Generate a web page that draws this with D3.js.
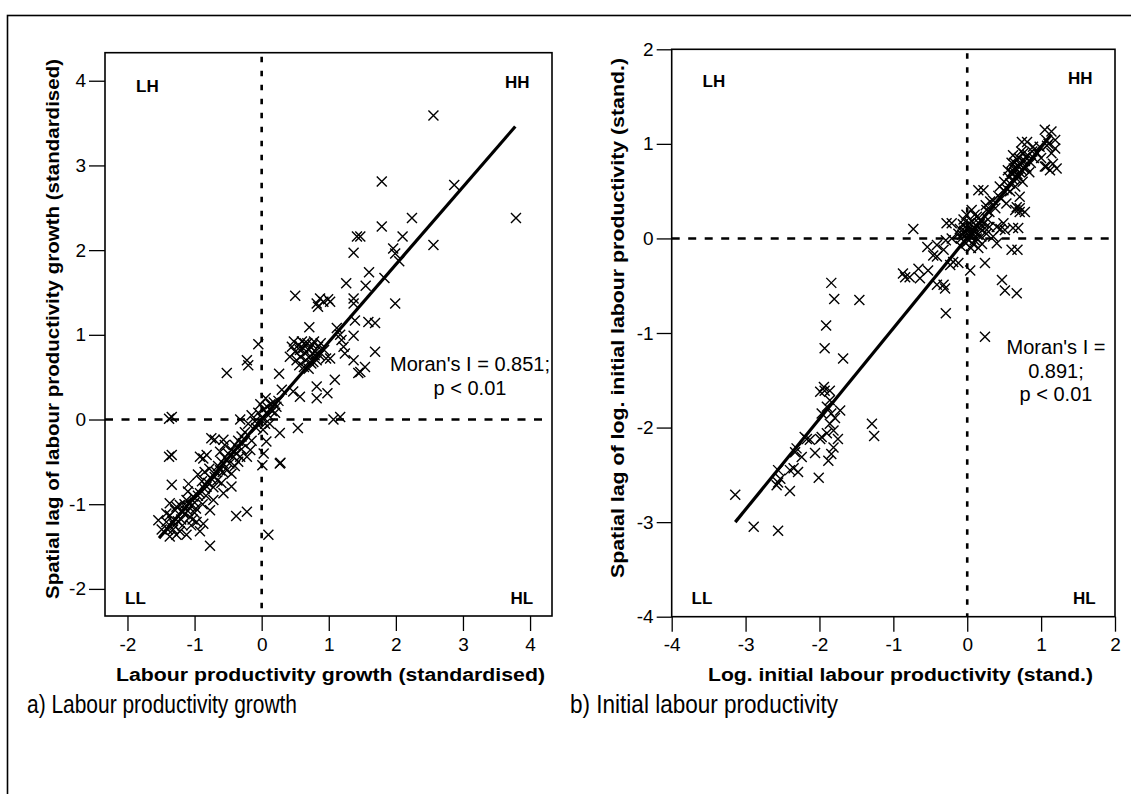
<!DOCTYPE html>
<html>
<head>
<meta charset="utf-8">
<script src="https://cdn.jsdelivr.net/npm/d3@7"></script>
<style>
  html, body { margin: 0; padding: 0; background: #fff; }
  svg { display: block; }
  text { font-family: "Liberation Sans", Arial, sans-serif; fill: #000; }
</style>
</head>
<body>
<svg id="chart" width="1131" height="794"></svg>
<script>
// ---------------- DATA ----------------
const ticksA_x = [-2, -1, 0, 1, 2, 3, 4];
const ticksA_y = [-2, -1, 0, 1, 2, 3, 4];
const ticksB_x = [-4, -3, -2, -1, 0, 1, 2];
const ticksB_y = [-4, -3, -2, -1, 0, 1, 2];

const quadrantLabels = ["LH", "HH", "LL", "HL"];

// a) Labour productivity growth: [x, spatial lag]
const pointsA = [
  [2.56,3.59],[1.79,2.81],[2.87,2.77],[3.79,2.38],[2.24,2.38],[1.79,2.28],[2.10,2.16],[2.56,2.06],
  [1.42,2.16],[1.47,2.16],[1.37,1.97],[1.96,2.02],[1.99,1.96],[2.05,1.87],[1.60,1.74],[1.83,1.67],
  [1.26,1.61],[1.55,1.58],[0.50,1.46],[0.87,1.43],[0.99,1.42],[0.82,1.37],[0.92,1.39],[1.02,1.39],
  [0.84,1.33],[1.37,1.43],[1.37,1.37],[1.99,1.37],[0.71,1.09],[1.12,1.08],[1.39,1.17],[1.59,1.15],
  [1.69,1.14],[1.37,0.99],[1.17,1.00],[1.19,0.94],
  [0.45,0.86],[0.50,0.80],[0.55,0.88],[0.58,0.74],[0.60,0.92],[0.62,0.84],[0.65,0.78],[0.66,0.70],
  [0.68,0.90],[0.70,0.82],[0.72,0.75],[0.74,0.66],[0.76,0.88],[0.78,0.92],[0.80,0.80],[0.82,0.70],
  [0.84,0.86],[0.86,0.76],[0.88,0.90],[0.52,0.70],[0.56,0.64],[0.63,0.62],[0.70,0.60],[0.77,0.68],
  [0.93,0.82],[0.96,0.72],[0.42,0.74],[0.48,0.92],[0.57,0.82],[0.64,0.90],[0.73,0.86],[0.79,0.76],
  [1.22,0.86],[1.24,0.78],[1.69,0.80],[1.02,0.72],[1.37,0.70],[1.54,0.62],[1.44,0.55],[1.09,0.47],
  [0.82,0.39],[0.98,0.31],[0.82,0.25],[0.57,0.27],[0.47,0.33],[1.47,0.56],[1.07,0.00],[1.17,0.03],
  [0.26,0.54],
  [-0.05,0.89],[-0.22,0.70],[-0.20,0.64],[-0.52,0.55],
  [-0.32,0.00],[-0.15,0.05],[-0.10,-0.02],[-0.05,0.08],[0.00,0.02],[0.03,0.12],[0.05,-0.05],[0.08,0.15],
  [0.10,0.05],[0.13,0.18],[0.15,0.10],[0.18,0.20],[0.20,0.08],[0.22,0.15],[-0.08,-0.10],[0.02,-0.12],
  [-0.02,0.18],[0.25,0.22],[0.30,0.35],[0.12,-0.05],[-0.20,-0.05],[0.06,0.25],
  [0.54,-0.10],[0.27,-0.16],[0.27,-0.52],[0.28,-0.51],[0.01,-0.54],[0.03,-0.40],[0.07,-0.26],
  [0.10,-1.36],[-0.22,-1.09],[-0.38,-1.14],[-0.77,-1.49],
  [-1.38,0.01],[-1.34,0.03],[-1.38,-0.44],[-1.34,-0.42],[-1.34,-0.77],[-1.09,-0.76],[-1.54,-1.19],
  [-0.75,-0.22],[-0.70,-0.24],[-0.57,-0.24],[-0.92,-0.44],[-0.82,-0.42],[-0.87,-0.46],[-0.45,-0.36],
  [-0.42,-0.44],[-0.32,-0.44],[-0.22,-0.44],[-0.17,-0.36],[-0.62,-0.60],[-0.52,-0.60],[-0.45,-0.64],
  [-0.70,-0.68],[-0.45,-0.79],[-0.57,-0.87],[-0.72,-0.95],[-0.77,-1.07],[-0.89,-0.73],[-0.82,-0.79],
  [-0.92,-0.87],[-1.02,-0.91],[-1.12,-0.95],[-1.22,-1.01],[-1.29,-1.07],[-1.37,-1.13],[-1.42,-1.21],
  [-1.32,-1.30],[-1.27,-1.36],[-1.37,-1.38],[-1.12,-1.36],[-0.92,-1.32],[-0.87,-1.23],[-0.97,-1.21],
  [-1.07,-1.15],[-1.17,-1.09],[-1.27,-1.03],[-1.37,-0.99],[-1.42,-1.11],[-1.49,-1.30],
  [-0.40,-0.30],[-0.35,-0.25],[-0.30,-0.20],[-0.25,-0.15],[-0.55,-0.45],[-0.50,-0.40],[-0.60,-0.50],
  [-0.65,-0.55],[-0.68,-0.62],[-0.75,-0.70],[-0.80,-0.75],[-0.85,-0.82],[-0.95,-0.90],[-1.00,-0.98],
  [-1.05,-1.02],[-1.10,-1.08],[-1.15,-1.12],[-1.20,-1.18],[-1.25,-1.20],[-1.30,-1.25],[-0.72,-0.80],
  [-0.88,-1.00],[-1.00,-1.10],[-1.05,-1.25],[-0.60,-0.75],[-0.40,-0.55],[-0.30,-0.35],[-0.15,-0.25],
  [-0.48,-0.52],[-0.95,-0.65],[-1.10,-0.85],[-0.78,-0.58],[-0.35,-0.50],[-0.55,-0.30],
  [-1.18,-1.25],[-1.22,-1.32],[-1.33,-1.20],[-1.03,-1.18],[-0.98,-1.05],[-0.83,-0.90],[-0.66,-0.72],
  [-0.58,-0.62],[-0.38,-0.40],[-0.28,-0.28],[-0.62,-0.38],[-0.85,-0.62],[-1.15,-1.00],[-1.40,-1.30]
];

// b) Initial labour productivity: [x, spatial lag]
const pointsB = [
  [-3.14,-2.71],[-2.89,-3.05],[-2.56,-3.09],[-2.40,-2.67],[-2.58,-2.61],[-2.56,-2.58],[-2.53,-2.54],
  [-2.56,-2.45],[-2.40,-2.45],[-2.29,-2.47],[-2.35,-2.43],[-2.33,-2.26],[-2.24,-2.31],[-2.31,-2.22],
  [-2.17,-2.12],[-2.13,-2.13],[-2.20,-2.10],[-2.06,-2.27],[-2.01,-2.53],[-1.99,-2.12],[-1.97,-2.10],
  [-1.90,-2.06],[-1.81,-2.03],[-1.75,-2.12],[-1.81,-2.21],[-1.84,-2.28],[-1.88,-2.35],[-1.86,-1.96],
  [-1.79,-1.90],[-1.84,-1.85],[-1.90,-1.78],[-1.97,-1.85],[-1.72,-1.82],[-1.86,-1.71],[-1.93,-1.61],
  [-1.86,-1.61],[-1.99,-1.62],[-1.94,-1.57],[-1.93,-1.16],[-1.68,-1.27],[-1.29,-1.96],[-1.26,-2.09],
  [0.24,-1.04],
  [-1.84,-0.47],[-1.80,-0.64],[-1.46,-0.65],[-1.91,-0.92],[-0.73,0.10],[-0.87,-0.37],[-0.84,-0.41],
  [-0.78,-0.41],[-0.66,-0.32],[-0.64,-0.42],[-0.53,-0.34],[-0.54,-0.09],[-0.41,-0.07],[-0.41,-0.19],
  [-0.46,-0.18],[-0.28,0.16],[-0.29,-0.02],[-0.41,-0.49],[-0.32,-0.49],[-0.30,-0.53],[-0.29,-0.79],
  [-0.23,-0.28],[-0.12,-0.26],[-0.19,-0.25],[0.04,-0.34],[0.24,-0.26],[0.15,0.51],[0.60,-0.12],
  [0.47,-0.44],[0.51,-0.55],[0.67,-0.58],[0.62,0.11],[0.65,0.30],[0.71,0.28],[0.67,0.33],
  [-0.21,0.16],[-0.21,0.00],[-0.32,-0.12],
  [-0.12,0.05],[-0.10,0.10],[-0.08,0.00],[-0.06,0.15],[-0.04,0.08],[-0.02,-0.05],[0.00,0.05],
  [0.02,0.12],[0.04,0.02],[0.06,0.18],[0.08,0.08],[0.10,-0.02],[0.12,0.14],[0.14,0.04],[0.16,0.22],
  [0.18,0.10],[0.20,-0.06],[0.22,0.16],[0.26,0.05],[0.28,0.20],[-0.05,0.20],[0.05,-0.10],[0.10,0.25],
  [0.00,0.00],[0.07,0.06],[-0.09,-0.08],[0.15,-0.10],[0.30,0.12],[0.35,0.02],[0.40,-0.05],[0.45,0.10],
  [-0.03,0.12],[0.01,0.09],[0.03,0.16],[0.05,0.04],[0.09,0.12],[0.11,0.07],[0.13,0.00],[-0.07,0.04],
  [0.02,-0.02],[0.17,0.15],[0.19,0.02],[0.24,0.11],[-0.01,0.25],[0.08,-0.06],
  [0.06,0.30],[0.13,0.23],[0.26,0.30],[0.49,0.16],[0.51,0.09],[0.40,0.12],[0.22,0.51],[0.31,0.39],
  [0.44,0.55],[0.49,0.51],[0.53,0.37],[0.71,0.44],[0.71,0.32],[0.78,0.28],[0.69,0.11],[0.68,-0.12],
  [0.25,0.35],[0.30,0.28],[0.35,0.40],[0.38,0.32],[0.42,0.45],[0.46,0.42],[0.50,0.60],[0.54,0.52],
  [0.56,0.65],[0.58,0.58],[0.60,0.70],[0.62,0.62],[0.64,0.80],[0.66,0.74],[0.68,0.68],[0.70,0.85],
  [0.72,0.78],[0.74,0.72],[0.76,0.90],[0.78,0.82],[0.80,0.75],[0.82,0.88],[0.84,0.70],[0.86,0.80],
  [0.88,0.92],[0.60,0.80],[0.55,0.72],[0.65,0.55],[0.62,0.88],[0.70,0.65],[0.75,0.60],[0.90,0.85],
  [0.58,0.50],[0.63,0.74],[0.67,0.84],[0.69,0.77],[0.71,0.70],[0.73,0.92],[0.75,0.82],[0.77,0.74],
  [0.66,0.64],[0.61,0.68],[0.79,0.86],[0.64,0.70],
  [1.14,1.13],[0.81,1.02],[0.98,0.97],[1.19,1.04],[1.19,0.95],[1.14,0.90],[1.21,0.74],[1.12,0.72],
  [1.05,0.76],[1.16,0.79],[1.05,1.15],[0.74,1.02],[1.07,0.76],[0.89,0.97],[1.07,1.04],[1.10,1.00],
  [1.08,0.98],[0.95,0.90],[1.00,0.85]
];

// fitted lines (end points)
const lineA = [[-1.53, -1.40], [3.78, 3.46]];
const lineB = [[-3.14, -3.00], [1.14, 1.10]];

const moranA = ["Moran's I = 0.851;", "p < 0.01"];
const moranB = ["Moran's I =", "0.891;", "p < 0.01"];

const xTitleA = "Labour productivity growth (standardised)";
const yTitleA = "Spatial lag of labour productivity growth (standardised)";
const xTitleB = "Log. initial labour productivity (stand.)";
const yTitleB = "Spatial lag of log. initial labour productivity (stand.)";
const captionA = "a) Labour productivity growth";
const captionB = "b) Initial labour productivity";

// ---------------- DRAW ----------------
const svg = d3.select("#chart");
const fmt = d => String(d);   // plain hyphen-minus like the original

// outer border (extends beyond right/bottom of the picture)
svg.append("rect").attr("x", 7.5).attr("y", 15.5).attr("width", 1140).attr("height", 800)
  .attr("fill", "none").attr("stroke", "#000").attr("stroke-width", 1.6);

function panel(cfg) {
  const x = d3.scaleLinear().domain(cfg.xDomain).range([cfg.left, cfg.right]);
  const y = d3.scaleLinear().domain(cfg.yDomain).range([cfg.bottom, cfg.top]);
  const g = svg.append("g");

  // frame
  g.append("rect").attr("x", cfg.left).attr("y", cfg.top)
    .attr("width", cfg.right - cfg.left).attr("height", cfg.bottom - cfg.top)
    .attr("fill", "none").attr("stroke", "#000").attr("stroke-width", 1.6);

  // axes
  const xAxis = d3.axisBottom(x).tickValues(cfg.xTicks).tickSize(15).tickPadding(6).tickFormat(fmt);
  const gx = g.append("g").attr("transform", `translate(0,${cfg.bottom})`).call(xAxis);
  gx.select(".domain").remove();
  gx.selectAll("line").attr("stroke", "#000").attr("stroke-width", 1.3);
  gx.selectAll("text").attr("font-size", 19).attr("dy", "0.72em")
    .attr("font-family", "'Liberation Sans', Arial, sans-serif");

  const yAxis = d3.axisLeft(y).tickValues(cfg.yTicks).tickSize(cfg.yTickSize).tickPadding(3).tickFormat(fmt);
  const gy = g.append("g").attr("transform", `translate(${cfg.left},0)`).call(yAxis);
  gy.select(".domain").remove();
  gy.selectAll("line").attr("stroke", "#000").attr("stroke-width", 1.3);
  gy.selectAll("text").attr("font-size", 19)
    .attr("font-family", "'Liberation Sans', Arial, sans-serif");

  // reference lines at 0
  g.append("line").attr("x1", x(0)).attr("x2", x(0))
    .attr("y1", cfg.top + 4).attr("y2", cfg.bottom)
    .attr("stroke", "#000").attr("stroke-width", 2.6).attr("stroke-dasharray", "5.5,8.5");
  g.append("line").attr("x1", cfg.left).attr("x2", cfg.right - 4)
    .attr("y1", y(0)).attr("y2", y(0))
    .attr("stroke", "#000").attr("stroke-width", 2.6).attr("stroke-dasharray", "8,8.5");

  // points as x marks
  const s = 5;
  g.append("g").selectAll("path").data(cfg.points).join("path")
    .attr("d", d => {
      const px = x(d[0]), py = y(d[1]);
      return `M${px - s},${py - s}L${px + s},${py + s}M${px - s},${py + s}L${px + s},${py - s}`;
    })
    .attr("stroke", "#000").attr("stroke-width", 1.4).attr("fill", "none");

  // fitted line
  g.append("path").datum(cfg.line)
    .attr("d", d3.line().x(d => x(d[0])).y(d => y(d[1])))
    .attr("stroke", "#000").attr("stroke-width", 3.2).attr("fill", "none");

  // quadrant labels
  cfg.quad.forEach((q, i) => {
    g.append("text").attr("x", q[0]).attr("y", q[1]).attr("font-size", 17)
      .attr("font-weight", "bold").text(quadrantLabels[i]);
  });

  // Moran text
  cfg.moran.forEach((t, i) => {
    g.append("text").attr("x", cfg.moranX).attr("y", cfg.moranY + i * 23.5)
      .attr("text-anchor", "middle").attr("font-size", 20).text(t);
  });

  // axis titles
  g.append("text").attr("x", cfg.xTitle[1]).attr("y", cfg.xTitle[2])
    .attr("text-anchor", "middle").attr("font-size", 18).attr("font-weight", "bold")
    .attr("textLength", cfg.xTitle[3]).attr("lengthAdjust", "spacingAndGlyphs")
    .text(cfg.xTitle[0]);
  g.append("text")
    .attr("transform", `translate(${cfg.yTitle[1]},${cfg.yTitle[2]}) rotate(-90)`)
    .attr("text-anchor", "middle").attr("font-size", 18).attr("font-weight", "bold")
    .attr("textLength", cfg.yTitle[3]).attr("lengthAdjust", "spacingAndGlyphs")
    .text(cfg.yTitle[0]);

  // caption
  g.append("text").attr("x", cfg.caption[1]).attr("y", cfg.caption[2])
    .attr("font-family", "'Liberation Serif', 'Times New Roman', serif")
    .attr("font-size", 26).attr("textLength", cfg.caption[3]).attr("lengthAdjust", "spacingAndGlyphs")
    .text(cfg.caption[0]);
}

panel({
  left: 105, right: 552, top: 52.7, bottom: 616,
  xDomain: [-2.335, 4.327], yDomain: [-2.32, 4.331],
  xTicks: ticksA_x, yTicks: ticksA_y, yTickSize: 16,
  points: pointsA, line: lineA,
  quad: [[136, 91.5], [505, 87.5], [125, 603.5], [510.5, 603.5]],
  moran: moranA, moranX: 470, moranY: 371,
  xTitle: [xTitleA, 330.5, 681, 429],
  yTitle: [yTitleA, 59, 329, 540],
  caption: [captionA, 27, 713, 270]
});

panel({
  left: 671.7, right: 1115, top: 49.3, bottom: 616.7,
  xDomain: [-4, 2], yDomain: [-4, 2],
  xTicks: ticksB_x, yTicks: ticksB_y, yTickSize: 15,
  points: pointsB, line: lineB,
  quad: [[702.5, 87], [1068, 84], [691.5, 603.5], [1073, 603.5]],
  moran: moranB, moranX: 1056, moranY: 354,
  xTitle: [xTitleB, 900.5, 681, 385],
  yTitle: [yTitleB, 624, 318, 520],
  caption: [captionB, 570, 713, 268]
});
</script>
</body>
</html>
